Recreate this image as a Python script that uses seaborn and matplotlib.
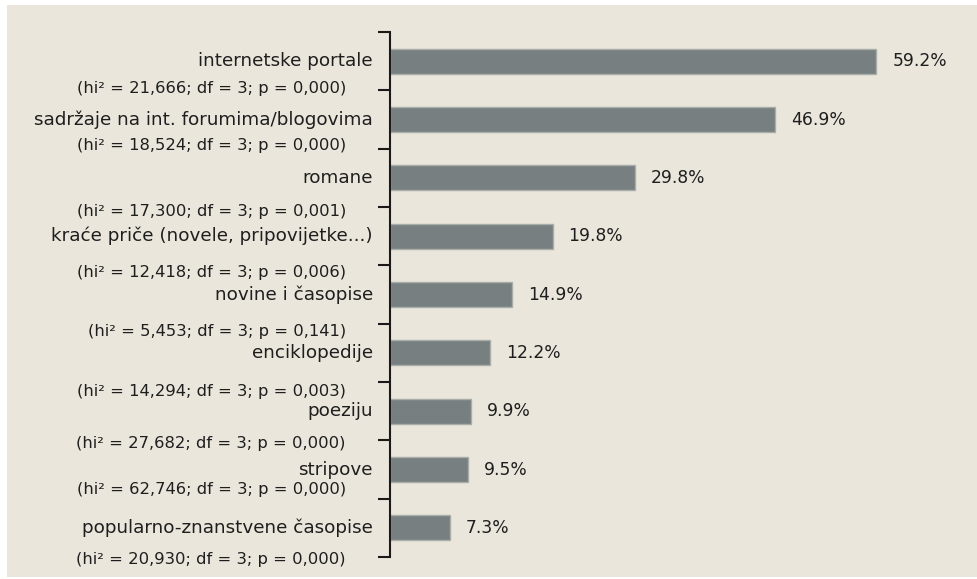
import numpy as np
import pandas as pd
import matplotlib
matplotlib.use("Agg")
import matplotlib.pyplot as plt
import seaborn as sns
from matplotlib.patches import Rectangle

categories = [
    "internetske portale",
    "sadržaje na int. forumima/blogovima",
    "romane",
    "kraće priče (novele, pripovijetke...)",
    "novine i časopise",
    "enciklopedije",
    "poeziju",
    "stripove",
    "popularno-znanstvene časopise",
]
values = [59.2, 46.9, 29.8, 19.8, 14.9, 12.2, 9.9, 9.5, 7.3]
stats = [
    "(hi² = 21,666; df = 3; p = 0,000)",
    "(hi² = 18,524; df = 3; p = 0,000)",
    "(hi² = 17,300; df = 3; p = 0,001)",
    "(hi² = 12,418; df = 3; p = 0,006)",
    "(hi² = 5,453; df = 3; p = 0,141)",
    "(hi² = 14,294; df = 3; p = 0,003)",
    "(hi² = 27,682; df = 3; p = 0,000)",
    "(hi² = 62,746; df = 3; p = 0,000)",
    "(hi² = 20,930; df = 3; p = 0,000)",
]

# layout: vertical offset of each stats line below its category (in category units)
stat_offsets = [0.47, 0.44, 0.57, 0.63, 0.64, 0.67, 0.55, 0.35, 0.55]

sns.set_style("white")
plt.rcParams["font.family"] = ["DejaVu Sans"]
FS_VAL = 12.3
FS_CAT = 13.2
FS_STAT = 11.8

W, H = 978, 579
fig = plt.figure(figsize=(W / 100, H / 100), dpi=100, facecolor="white")
bg = Rectangle((7 / W, 2 / H), (W - 7) / W, 572 / H,
               transform=fig.transFigure, facecolor="#EAE6DB",
               edgecolor="none", zorder=-10)
fig.add_artist(bg)

left, right = 390 / W, 965 / W
top, bottom = 1 - 32 / H, 1 - 557 / H
ax = fig.add_axes([left, bottom, right - left, top - bottom])
ax.set_facecolor("none")
ax.set_zorder(1)

df = pd.DataFrame({"cat": categories, "val": values})
sns.barplot(data=df, y="cat", x="val", orient="h", color="#777F80",
            saturation=1, width=0.43, edgecolor="#A8ADAA", linewidth=1, ax=ax)

ax.set_xlim(0, 70)
ax.set_ylim(len(categories) - 0.5, -0.5)
ax.set_xlabel("")
ax.set_ylabel("")
ax.set_xticks([])
ax.set_yticks(np.arange(-0.5, len(categories), 1.0))
ax.set_yticklabels([])
ax.tick_params(axis="y", length=9, width=1.5, color="#1a1a1a", left=True, direction="out")
for s in ["top", "right", "bottom"]:
    ax.spines[s].set_visible(False)
ax.spines["left"].set_color("#1a1a1a")
ax.spines["left"].set_linewidth(1.5)

for cont in ax.containers:
    ax.bar_label(cont, fmt="%.1f%%", padding=11.5, fontsize=FS_VAL, color="#1e1e1e")

for i, (c, s) in enumerate(zip(categories, stats)):
    ax.annotate(c, xy=(0, i), xycoords=("axes fraction", "data"),
                xytext=(-12.2, 0), textcoords="offset points",
                ha="right", va="center", fontsize=FS_CAT, color="#1e1e1e",
                annotation_clip=False)
    ax.annotate(s, xy=(0, i + stat_offsets[i]), xycoords=("axes fraction", "data"),
                xytext=(-31.7, 0), textcoords="offset points",
                ha="right", va="center", fontsize=FS_STAT, color="#1e1e1e",
                annotation_clip=False)

fig.savefig("out.png", dpi=100, facecolor="white")
